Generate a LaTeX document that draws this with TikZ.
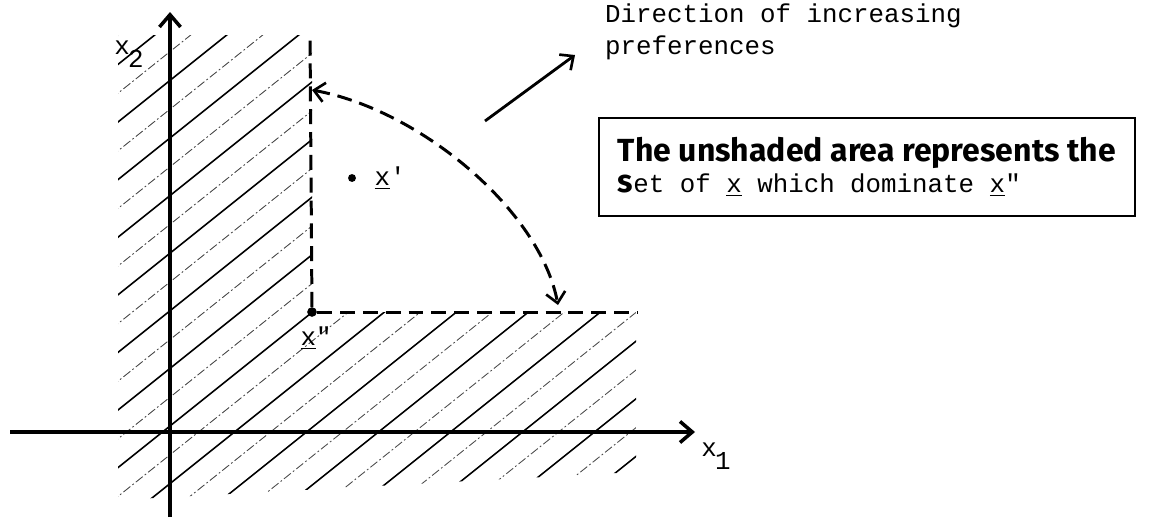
\documentclass[tikz,border=0pt]{standalone}
\usepackage{fontspec}
\setmonofont{Liberation Mono}
\newfontfamily\handfont{Fira Sans}
\usetikzlibrary{arrows.meta}

\tikzset{
  axis/.style={line width=2pt, -{Straight Barb[length=7pt,width=12pt,line width=2pt]}},
  dashline/.style={line width=1.7pt, dash pattern=on 8.5pt off 4.5pt},
  barb/.tip={Straight Barb[length=6pt,width=11pt,line width=1.5pt]},
  hatchdark/.style={line width=0.9pt},
  hatchfaint/.style={line width=0.5pt, black!70, dash pattern=on 5pt off 1.5pt on 1pt off 1.5pt},
  dot/.style={circle, fill, inner sep=0pt, minimum size=5.5pt},
  lbl/.style={font=\ttfamily\fontsize{14.7}{18}\selectfont, inner sep=1pt},
}

\begin{document}
\begin{tikzpicture}[x=0.02cm, y=-0.02cm]
    \useasboundingbox (0,0) rectangle (1152,521);

    % hatched area (points not dominating x'')
    \begin{scope}
        \clip (118,35) -- (312,35) -- (312,312) -- (636,312) -- (636,472) -- (118,500) -- cycle;
        \foreach \i in {0,...,31}{
            \pgfmathsetmacro\k{101.2+28.8*\i}
            \ifodd\i
                \draw[hatchfaint] (0,\k) -- (700,\k-560);
            \else
                \draw[hatchdark] (0,\k) -- (700,\k-560);
            \fi
        }
    \end{scope}

    % axes
    \coordinate (xaxL) at (10,432);
    \coordinate (xaxR) at (695,432);
    \coordinate (yaxB) at (170,517);
    \coordinate (yaxT) at (170,12);
    \draw[axis] (xaxL) -- (xaxR);
    \draw[axis] (yaxB) -- (yaxT);
    \node[lbl] (xonelab) at (716,456) {x\kern-1pt\raisebox{-0.5em}{1}};
    \node[lbl] (xtwolab) at (129,54) {x\kern-1pt\raisebox{-0.5em}{2}};

    % points
    \node[dot] (xpp) at (312,312) {};
    \node[dot, minimum size=4.5pt] (xp) at (352,178) {};
    \node[lbl] (xpplab) at (316,338) {\underline{x}\textquotedbl};
    \node[lbl] (xplab) at (390,178) {\underline{x}\textquotesingle};

    % dominance boundary
    \coordinate (vtop) at (310,35);
    \coordinate (hend) at (638,312);
    \draw[dashline] (xpp) -- (vtop);
    \draw[dashline] (xpp) -- (hend);

    % curved double arrow
    \coordinate (arcA) at (312,90);
    \coordinate (arcB) at (558,305);
    \draw[dashline, barb-barb] (arcA) .. controls (420,110) and (540,210) .. (arcB);

    % direction of preferences
    \coordinate (dirA) at (485,121);
    \coordinate (dirB) at (575,55);
    \draw[line width=1.6pt, -barb] (dirA) -- (dirB);
    \node[lbl, anchor=north west, align=left] (dirlab) at (603,2) {Direction of increasing\\preferences};

    % note box
    \node[draw, line width=1pt, anchor=north west, minimum width=10.72cm, minimum height=1.96cm,
          align=left, inner xsep=0pt] (note) at (598,117)
        {{\handfont\bfseries\fontsize{18.2}{18}\selectfont The unshaded area represents the}\\[2pt]
         {\handfont\bfseries\fontsize{18.2}{18}\selectfont s}{\ttfamily\fontsize{14.7}{16}\selectfont et of \underline{x} which dominate \underline{x}\textquotedbl}};
\end{tikzpicture}
\end{document}
